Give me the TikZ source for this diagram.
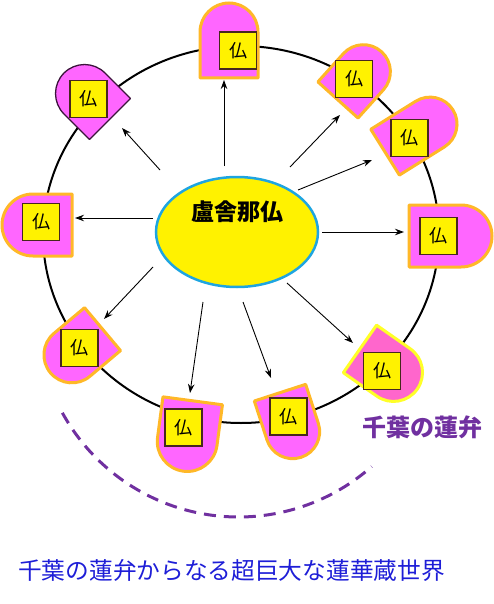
\documentclass[tikz,border=0pt]{standalone}
\usepackage{fontspec}
\newfontfamily\jp{Noto Sans CJK JP}
\usetikzlibrary{arrows.meta,shapes.geometric}
\definecolor{petalpink}{RGB}{255,102,255}
\definecolor{petalpinkb}{RGB}{255,102,204}
\definecolor{petalorange}{RGB}{255,184,40}
\definecolor{petaldark}{RGB}{60,20,60}
\definecolor{petalyellow}{RGB}{255,255,40}
\definecolor{ellblue}{RGB}{30,165,225}
\definecolor{lotuspurple}{RGB}{112,48,160}
\definecolor{textblue}{RGB}{30,30,215}
\definecolor{sqborder}{RGB}{70,40,30}
\tikzset{
  petalA/.style={fill=petalpink,draw=petalorange,line width=3pt,line join=round},
  petalB/.style={fill=petalpink,draw=petaldark,line width=1.3pt,line join=round},
  petalC/.style={fill=petalpinkb,draw=petalyellow,line width=3pt,line join=round},
  buddha/.style={draw=sqborder,line width=1.3pt,fill=yellow,minimum size=37pt,inner sep=0pt,font=\jp\fontsize{18}{18}\selectfont},
  ray/.style={line width=0.9pt,-{Stealth[length=9pt,width=6.5pt]}},
}
% petal: center x, center y, axis angle, length, width, style
\newcommand\drawpetal[6]{%
  \begin{scope}[shift={(#1,#2)},rotate=#3]
    \path[#6] (-#4/2,-#5/2) -- ({#4/2-#5/2},-#5/2)
      arc[start angle=-90,end angle=90,radius=#5/2] -- (-#4/2,#5/2) -- cycle;
  \end{scope}}
\begin{document}
\begin{tikzpicture}[x=1pt,y=1pt,yscale=-1]
\useasboundingbox (0,0) rectangle (494,604);
% big ring
\draw[line width=2pt] (241,234.5) ellipse[x radius=198,y radius=188.5];
% dashed arc
\draw[lotuspurple,line width=3pt,dash pattern=on 12pt off 8pt]
  (238.5,316) ++(151.2:201) arc[start angle=151.2,end angle=48.5,radius=201];
% arrow coordinates
\coordinate (s1) at (224,166);  \coordinate (t1) at (224,80);
\coordinate (s2) at (160,170);  \coordinate (t2) at (122,128);
\coordinate (s3) at (290,167);  \coordinate (t3) at (340,115);
\coordinate (s4) at (298,190);  \coordinate (t4) at (372,160);
\coordinate (s5) at (322,232);  \coordinate (t5) at (404,232);
\coordinate (s6) at (153,218);  \coordinate (t6) at (75,218);
\coordinate (s7) at (153,267);  \coordinate (t7) at (104,319);
\coordinate (s8) at (203,302);  \coordinate (t8) at (190,393);
\coordinate (s9) at (243,302);  \coordinate (t9) at (271,378);
\coordinate (s10) at (287,283); \coordinate (t10) at (353,343);
\foreach \i in {1,...,10} { \draw[ray] (s\i) -- (t\i); }
% petals
\drawpetal{229}{40.5}{-90}{75}{58}{petalA}
\drawpetal{87}{96}{-135}{65}{58}{petalB}
\drawpetal{359.7}{75.8}{-48}{65}{54}{petalA}
\drawpetal{419}{131}{-32}{80}{54}{petalA}
\drawpetal{450.5}{236}{0}{83}{62}{petalA}
\drawpetal{37}{225}{180}{70}{62}{petalA}
\drawpetal{76.5}{351}{140}{68}{56}{petalA}
\drawpetal{188}{436}{97.6}{71}{60}{petalA}
\drawpetal{290.5}{425}{72}{68}{54}{petalA}
\drawpetal{388.6}{369}{35}{70}{58}{petalC}
% buddhas
\node[buddha] (b1) at (238,50.5) {仏};
\node[buddha] (b2) at (88.5,99) {仏};
\node[buddha] (b3) at (354,79) {仏};
\node[buddha] (b4) at (409.5,138) {仏};
\node[buddha] (b5) at (438.5,236) {仏};
\node[buddha] (b6) at (41,222) {仏};
\node[buddha] (b7) at (79.5,348) {仏};
\node[buddha] (b8) at (183.5,427.5) {仏};
\node[buddha] (b9) at (288.5,416.5) {仏};
\node[buddha] (b10) at (382,371) {仏};
% center
\node[draw=ellblue,line width=2.5pt,fill=yellow,ellipse,minimum width=162pt,minimum height=110pt,inner sep=0pt] (ell) at (237,232) {};
\node[font=\jp\bfseries\fontsize{23}{23}\selectfont] (title) at (237,212) {盧舎那仏};
% labels
\node[font=\jp\bfseries\fontsize{24}{24}\selectfont,text=lotuspurple] (lotus) at (422.5,427) {千葉の蓮弁};
\node[font=\jp\fontsize{23.7}{24}\selectfont,text=textblue] (world) at (231.5,570) {千葉の蓮弁からなる超巨大な蓮華蔵世界};
\end{tikzpicture}
\end{document}
